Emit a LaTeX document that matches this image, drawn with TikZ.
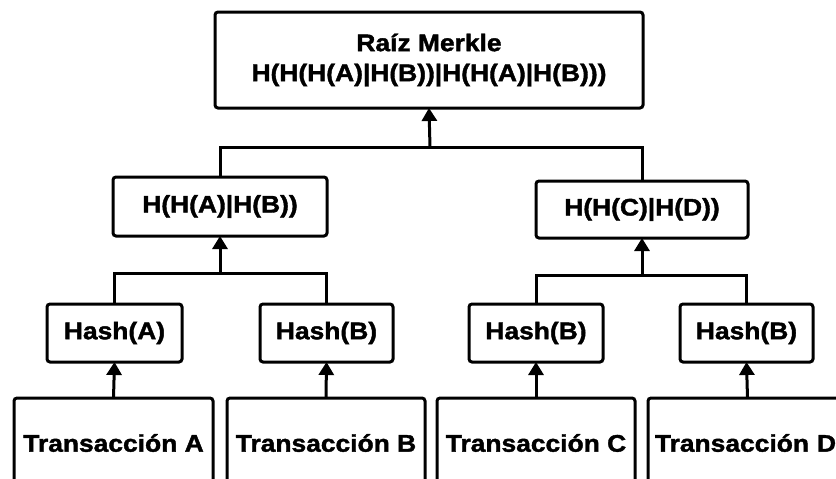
\documentclass[tikz,border=0pt]{standalone}
\usepackage{fontspec}
\setmainfont{Liberation Sans}[FakeStretch=1.1, BoldFeatures={FakeBold=1.6}]
\usetikzlibrary{arrows.meta}
\begin{document}
\begin{tikzpicture}[x=1pt,y=-1pt,
  box/.style={draw=black, line width=3pt, rounded corners=3pt, fill=white,
    inner sep=0pt, outer sep=0pt, align=center,
    font=\fontsize{24}{30}\selectfont\bfseries},
  link/.style={draw=black, line width=3pt},
  arr/.style={link, -{Triangle[width=15pt,length=13pt]}}]
\useasboundingbox (0,0) rectangle (836,479);
\clip (0,0) rectangle (836,479);
\fill[white] (0,0) rectangle (836,479);

% root of the tree
\node[box, minimum width=428pt, minimum height=96pt] (root) at (429,60)
  {Raíz Merkle\\H(H(H(A)|H(B))|H(H(A)|H(B)))};

% intermediate hashes
\node[box, minimum width=214pt, minimum height=59pt] (midL) at (220,206.5) {H(H(A)|H(B))};
\node[box, minimum width=212pt, minimum height=57pt] (midR) at (642,209.5) {H(H(C)|H(D))};

% leaf hashes
\node[box, minimum width=135pt, minimum height=58pt] (hashA) at (114.5,333) {Hash(A)};
\node[box, minimum width=133pt, minimum height=58pt] (hashB) at (326.5,333) {Hash(B)};
\node[box, minimum width=134pt, minimum height=58pt] (hashC) at (536,333) {Hash(B)};
\node[box, minimum width=133pt, minimum height=58pt] (hashD) at (746.5,333) {Hash(B)};

% transactions
\node[box, minimum width=199pt, minimum height=90pt] (transA) at (113.5,443) {Transacción A};
\node[box, minimum width=198pt, minimum height=90pt] (transB) at (326,443) {Transacción B};
\node[box, minimum width=198pt, minimum height=90pt] (transC) at (536,443) {Transacción C};
\node[box, minimum width=199pt, minimum height=90pt, text width=183pt] (transD) at (747.5,443) {\hspace*{-4pt}Transacción D};

% junctions on the horizontal bars
\coordinate (j0) at (430,147);
\coordinate (j1) at (220,273);
\coordinate (j2) at (642,275);

% bars joining siblings
\draw[link] (midL.north) |- (j0) -| (midR.north);
\draw[link] (hashA.north) |- (j1) -| (hashB.north);
\draw[link] (hashC.north) |- (j2) -| (hashD.north);

% arrows towards the parents
\draw[arr] (j0) -- (root.south);
\draw[arr] (j1) -- (midL.south);
\draw[arr] (j2) -- (midR.south);
\draw[arr] (transA.north) -- (hashA.south);
\draw[arr] (transB.north) -- (hashB.south);
\draw[arr] (transC.north) -- (hashC.south);
\draw[arr] (transD.north) -- (hashD.south);
\end{tikzpicture}
\end{document}
